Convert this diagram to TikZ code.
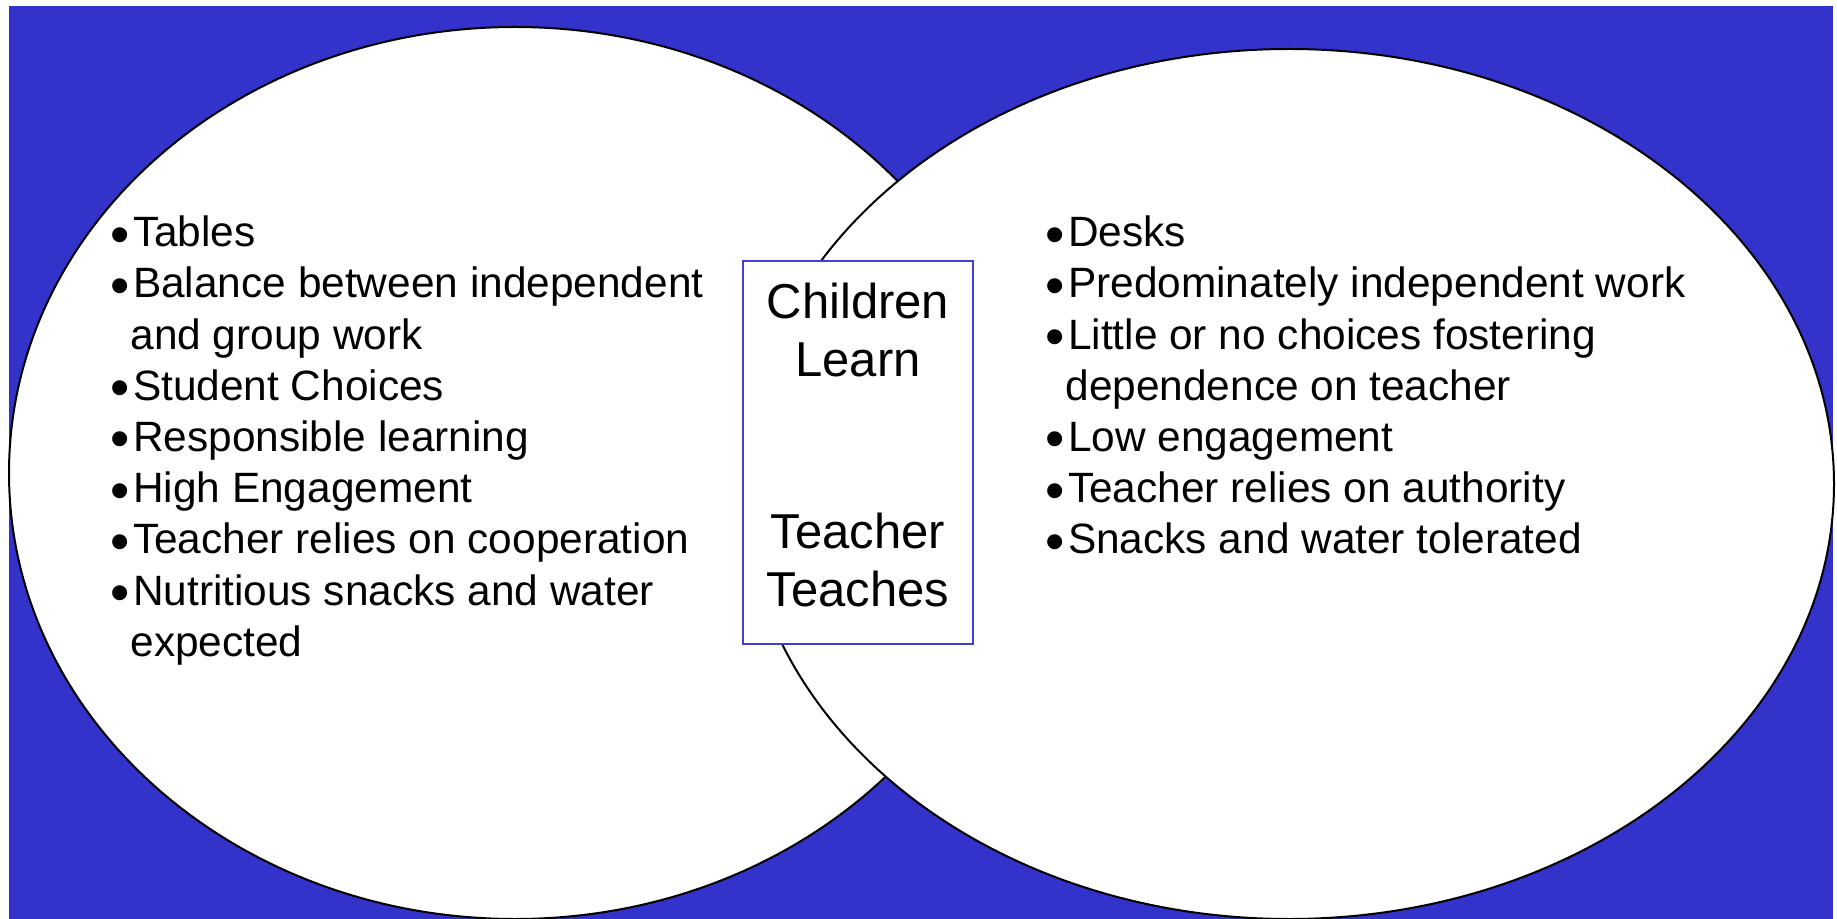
\documentclass[tikz,border=0pt]{standalone}
\usepackage{fontspec}
\setmainfont{Liberation Sans}
\usepackage{xcolor}
\usepackage{tikz}
\usetikzlibrary{shapes.geometric}
\definecolor{slide}{RGB}{51,51,204}
\definecolor{frame}{RGB}{64,64,214}
\newcommand{\bul}{\makebox[0pt][r]{\raisebox{-0.15em}{\scalebox{1.3}{•}}\hspace{0.4pt}}\hspace{1.3pt}}

\begin{document}
\begin{tikzpicture}[
    x=0.5pt, y=-0.5pt,
    every node/.style={inner sep=0pt, outer sep=0pt},
    lens/.style={ellipse, draw=black, line width=1pt, fill=white},
    list/.style={anchor=north west, align=left, font=\fontsize{21.2pt}{25.6pt}\selectfont},
    core/.style={draw=frame, line width=1pt, fill=white, minimum width=115pt, minimum height=191.5pt},
    coretext/.style={anchor=north, align=center, font=\fontsize{24.5pt}{28.75pt}\selectfont}
]
\useasboundingbox[fill=white] (0,0) rectangle (1837,919);
\fill[slide] (9,6) rectangle (1833,919);
\node[lens, minimum width=506pt, minimum height=446pt] (student) at (515,473) {};
\node[lens, minimum width=545pt, minimum height=435pt] (teacher) at (1289,484) {};
\node[core] (mid) at (858,452.5) {};
\node[coretext] (learn) at (858,283) {Children\\Learn};
\node[coretext] (teach) at (858,513) {Teacher\\Teaches};
\node[list] (studentlist) at (130.5,216) {\bul Tables\\
\bul Balance between independent\\
and group work\\
\bul Student Choices\\
\bul Responsible learning\\
\bul High Engagement\\
\bul Teacher relies on cooperation\\
\bul Nutritious snacks and water\\
expected};
\node[list] (teacherlist) at (1065.5,216) {\bul Desks\\
\bul Predominately independent work\\
\bul Little or no choices fostering\\
dependence on teacher\\
\bul Low engagement\\
\bul Teacher relies on authority\\
\bul Snacks and water tolerated};
\end{tikzpicture}
\end{document}
